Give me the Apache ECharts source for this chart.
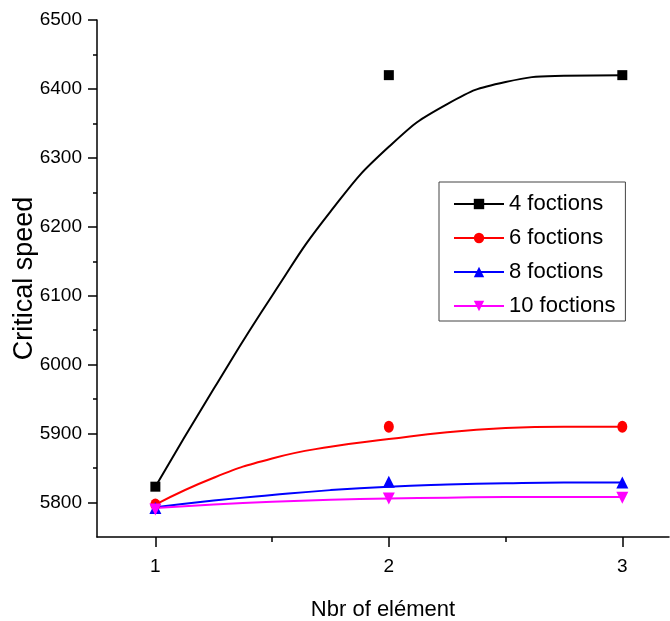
<!DOCTYPE html>
<html>
<head>
<meta charset="utf-8">
<script src="https://cdn.jsdelivr.net/npm/echarts@6/dist/echarts.min.js"></script>
<style>
  html, body { margin: 0; padding: 0; background: #fff; }
  #chart { width: 670px; height: 621px; }
</style>
</head>
<body>
<div id="chart"></div>
<script>
// measured points
const pointX = [1, 2, 3]
const f4Points = [5823, 6420, 6420]
const f6Points = [5797, 5910, 5910]
const f8Points = [5792, 5830, 5829]
const f10Points = [5790, 5806, 5807]

// fitted curves
const curveX = [1, 1.25, 1.5, 1.75, 2, 2.25, 2.5, 2.75, 3]
const f4Curve = [5823, 5965, 6100, 6222, 6316, 6378, 6410, 6419, 6420]
const f6Curve = [5797, 5836, 5864, 5881, 5892, 5902, 5908, 5910, 5910]
const f8Curve = [5793, 5803, 5811, 5818, 5823, 5826, 5828, 5829, 5829]
const f10Curve = [5792, 5797, 5801, 5804, 5806, 5807, 5808, 5808, 5808]

const xTicks = [1, 2, 3]
const xMinorTicks = [1.5, 2.5]
const yTicks = [5800, 5900, 6000, 6100, 6200, 6300, 6400, 6500]
const yMinorTicks = [5850, 5950, 6050, 6150, 6250, 6350, 6450]

const seriesDefs = [
  { name: '4 foctions', color: '#000000', symbol: 'rect', size: 10, rotate: 0, points: f4Points, curve: f4Curve },
  { name: '6 foctions', color: '#ff0000', symbol: 'circle', size: [10, 12], rotate: 0, points: f6Points, curve: f6Curve },
  { name: '8 foctions', color: '#0000ff', symbol: 'triangle', size: 12, rotate: 0, points: f8Points, curve: f8Curve },
  { name: '10 foctions', color: '#ff00ff', symbol: 'triangle', size: 12, rotate: 180, points: f10Points, curve: f10Curve }
]

const font = "'Liberation Sans', Arial, sans-serif"
const chart = echarts.init(document.getElementById('chart'))

const lineSeries = seriesDefs.map((s) => ({
  name: s.name,
  type: 'line',
  xAxisIndex: 0,
  yAxisIndex: 0,
  smooth: 0.5,
  symbol: s.symbol,
  symbolRotate: s.rotate,
  showSymbol: false,
  z: 2,
  color: s.color,
  lineStyle: { width: 2, color: s.color },
  itemStyle: { color: s.color },
  data: curveX.map((x, i) => [x, s.curve[i]])
}))

const pointSeries = seriesDefs.map((s) => ({
  name: s.name,
  type: 'scatter',
  xAxisIndex: 0,
  yAxisIndex: 0,
  symbol: s.symbol,
  symbolSize: s.size,
  symbolRotate: s.rotate,
  z: 3,
  itemStyle: { color: s.color, opacity: 1 },
  data: pointX.map((x, i) => [x, s.points[i]])
}))

chart.setOption({
  animation: false,
  textStyle: { fontFamily: font },
  grid: { left: 97, right: 1, top: 20, bottom: 84, outerBoundsMode: 'none', containLabel: false },
  legend: {
    orient: 'vertical',
    left: 439,
    top: 182,
    padding: [10, 10, 3, 14],
    borderColor: '#444',
    borderWidth: 1,
    itemWidth: 50,
    itemHeight: 13,
    itemGap: 10,
    textStyle: { fontSize: 22, lineHeight: 24, color: '#000', fontFamily: font },
    data: seriesDefs.map((s) => s.name)
  },
  xAxis: [
    {
      type: 'value',
      min: 0.75,
      max: 3.2,
      name: 'Nbr of elément',
      nameLocation: 'middle',
      nameGap: 62,
      nameTextStyle: { fontSize: 22, color: '#000', fontFamily: font },
      splitLine: { show: false },
      axisLine: { onZero: false, lineStyle: { color: '#000', width: 1.5 } },
      axisTick: { customValues: xTicks, length: 10, lineStyle: { color: '#000', width: 1.5 } },
      axisLabel: { customValues: xTicks, margin: 20, fontSize: 19, color: '#000', fontFamily: font, formatter: (v) => String(v) }
    },
    {
      type: 'value',
      min: 0.75,
      max: 3.2,
      position: 'bottom',
      splitLine: { show: false },
      axisLine: { show: false, onZero: false },
      axisTick: { customValues: xMinorTicks, length: 5, lineStyle: { color: '#000', width: 1.5 } },
      axisLabel: { show: false }
    }
  ],
  yAxis: [
    {
      type: 'value',
      min: 5750,
      max: 6500,
      name: 'Critical speed',
      nameLocation: 'middle',
      nameGap: 59,
      nameMoveOverlap: false,
      nameTextStyle: { fontSize: 27, color: '#000', fontFamily: font },
      splitLine: { show: false },
      axisLine: { show: true, onZero: false, lineStyle: { color: '#000', width: 1.5 } },
      axisTick: { show: true, customValues: yTicks, length: 9, lineStyle: { color: '#000', width: 1.5 } },
      axisLabel: { customValues: yTicks, margin: 15, fontSize: 19, color: '#000', fontFamily: font, formatter: (v) => String(v) }
    },
    {
      type: 'value',
      min: 5750,
      max: 6500,
      position: 'left',
      splitLine: { show: false },
      axisLine: { show: false, onZero: false },
      axisTick: { show: true, customValues: yMinorTicks, length: 4, lineStyle: { color: '#000', width: 1.5 } },
      axisLabel: { show: false }
    }
  ],
  series: [...lineSeries, ...pointSeries]
})
</script>
</body>
</html>
